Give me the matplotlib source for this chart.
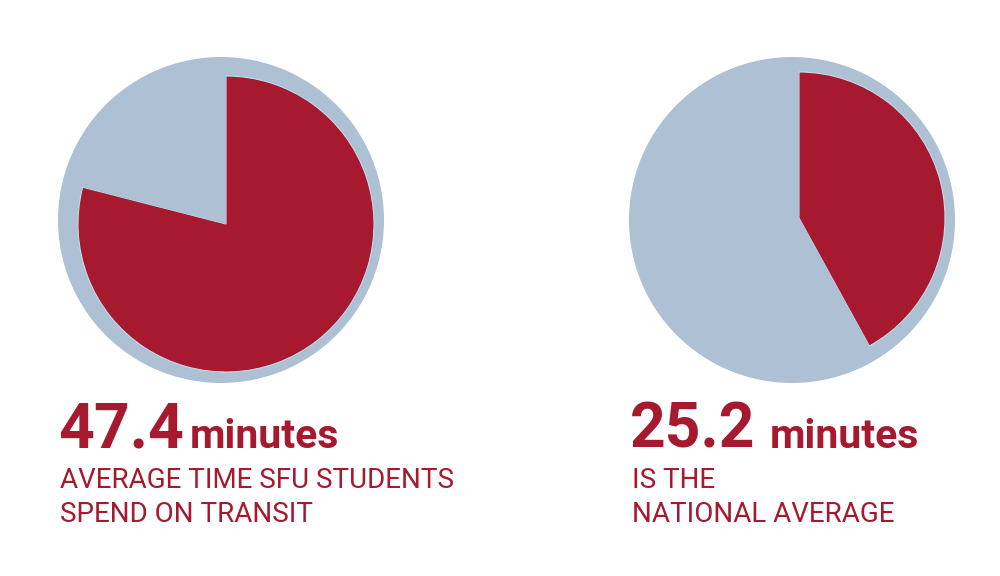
import matplotlib.pyplot as plt

# minutes out of a 60-minute clock face
sfu_minutes = 47.4
national_minutes = 25.2
clock_minutes = 60

headline_values = ["47.4", "25.2"]
headline_unit = "minutes"
captions = [["AVERAGE TIME SFU STUDENTS", "SPEND ON TRANSIT"],
            ["IS THE", "NATIONAL AVERAGE"]]

red = '#A6192E'
blue = '#AEC0D3'

fig = plt.figure(figsize=(10, 5.76), dpi=100)
ax = fig.add_axes([0, 0, 1, 1])

# (ring center, wedge center, wedge radius, text x, unit x)
layout = [((221, 356), (226, 352), 148, 58, 190),
          ((792, 356), (799, 358), 146, 630, 770)]

for val, (ring_c, wedge_c, r, tx, ux), label, cap in zip(
        [sfu_minutes, national_minutes], layout, headline_values, captions):
    ax.pie([1], colors=[blue], radius=163, center=ring_c,
           wedgeprops=dict(linewidth=0))
    wedges, _ = ax.pie([val, clock_minutes - val], colors=[red, blue], radius=r,
                       center=wedge_c, startangle=90, counterclock=False,
                       wedgeprops=dict(linewidth=0))
    wedges[0].set_edgecolor('#C2DAEA')
    wedges[0].set_linewidth(0.8)
    ax.text(tx, 128, label, color=red, fontsize=45, fontweight='bold',
            family='Roboto', va='baseline', ha='left')
    ax.text(ux, 128, headline_unit, color=red, fontsize=29.5, fontweight='bold',
            family='Roboto', va='baseline', ha='left')
    ax.text(tx + 2, 88, cap[0], color=red, fontsize=20,
            family='Roboto', va='baseline', ha='left')
    ax.text(tx + 2, 54, cap[1], color=red, fontsize=20,
            family='Roboto', va='baseline', ha='left')

ax.set_xlim(0, 1000)
ax.set_ylim(0, 576)
ax.set_aspect('auto')
ax.axis('off')

fig.savefig('out.png', dpi=100, facecolor='white')
